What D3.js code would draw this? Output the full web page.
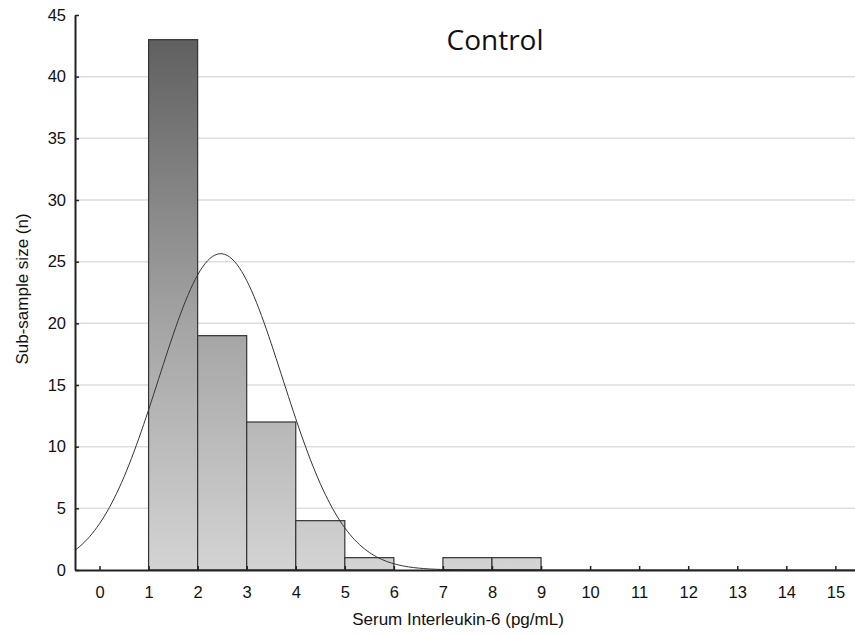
<!DOCTYPE html>
<html>
<head>
<meta charset="utf-8">
<title>Control</title>
<script src="https://cdn.jsdelivr.net/npm/d3@7"></script>
<style>
  body { margin: 0; background: #fff; }
  text { font-family: "Liberation Sans", Arial, sans-serif; fill: #111; }
</style>
</head>
<body>
<script>
// bins of serum IL-6 (pg/mL) and counts
var binStart = [1, 2, 3, 4, 5, 6, 7, 8];
var counts   = [43, 19, 12, 4, 1, 0, 1, 1];
var xTicks = d3.range(0, 16);
var yTicks = [0, 5, 10, 15, 20, 25, 30, 35, 40, 45];
// fitted normal curve
var fitMean = 2.47, fitSd = 1.26, fitN = 81;

var W = 855, H = 635;
var svg = d3.select("body").append("svg")
  .attr("width", W).attr("height", H);

var x = d3.scaleLinear().domain([-0.5, 15.4]).range([75, 855]);
var y = d3.scaleLinear().domain([0, 45]).range([570, 15]);

var defs = svg.append("defs");
var grad = defs.append("linearGradient").attr("id", "barGrad")
  .attr("gradientUnits", "userSpaceOnUse")
  .attr("x1", 0).attr("x2", 0).attr("y1", y(45)).attr("y2", y(0));
grad.append("stop").attr("offset", "0%").attr("stop-color", "#5a5a5a");
grad.append("stop").attr("offset", "55%").attr("stop-color", "#a3a3a3");
grad.append("stop").attr("offset", "100%").attr("stop-color", "#d4d4d4");
defs.append("clipPath").attr("id", "plotClip").append("rect")
  .attr("x", 75).attr("y", 15).attr("width", 780).attr("height", 555);

// grid
svg.append("g").selectAll("line")
  .data(yTicks.filter(function(d){ return d > 0 && d < 45; }))
  .enter().append("line")
  .attr("x1", 75).attr("x2", 855)
  .attr("y1", function(d){ return y(d); }).attr("y2", function(d){ return y(d); })
  .attr("stroke", "#dedede").attr("stroke-width", 1.5);

// bars
svg.append("g").selectAll("rect")
  .data(counts.map(function(c, i){ return {x0: binStart[i], n: c}; }).filter(function(d){ return d.n > 0; }))
  .enter().append("rect")
  .attr("x", function(d){ return x(d.x0); })
  .attr("width", function(d){ return x(d.x0 + 1) - x(d.x0); })
  .attr("y", function(d){ return y(d.n); })
  .attr("height", function(d){ return y(0) - y(d.n); })
  .attr("fill", "url(#barGrad)")
  .attr("stroke", "#333").attr("stroke-width", 1.2);

// normal curve
var curvePts = d3.range(-0.5, 15.41, 0.05).map(function(v){
  var z = (v - fitMean) / fitSd;
  return [v, fitN / (fitSd * Math.sqrt(2 * Math.PI)) * Math.exp(-0.5 * z * z)];
});
svg.append("path")
  .datum(curvePts)
  .attr("clip-path", "url(#plotClip)")
  .attr("fill", "none").attr("stroke", "#333").attr("stroke-width", 1)
  .attr("d", d3.line().x(function(d){ return x(d[0]); }).y(function(d){ return y(d[1]); }));

// axes
var xAxis = svg.append("g").attr("transform", "translate(0,570)")
  .call(d3.axisBottom(x).tickValues(xTicks).tickSizeInner(-4).tickSizeOuter(0).tickPadding(16));
var yAxis = svg.append("g").attr("transform", "translate(75,0)")
  .call(d3.axisLeft(y).tickValues(yTicks).tickSizeInner(-4).tickSizeOuter(0).tickPadding(9));
[xAxis, yAxis].forEach(function(a){
  a.select(".domain").attr("stroke", "#222").attr("stroke-width", 2);
  a.selectAll(".tick line").attr("stroke", "#222").attr("stroke-width", 1.5);
  a.selectAll("text").attr("font-size", 16.5).attr("fill", "#111")
    .attr("font-family", "Liberation Sans, Arial, sans-serif");
});

// labels
svg.append("text").attr("x", 458).attr("y", 625)
  .attr("text-anchor", "middle").attr("font-size", 17)
  .text("Serum Interleukin-6 (pg/mL)");
svg.append("text").attr("transform", "translate(28,289) rotate(-90)")
  .attr("text-anchor", "middle").attr("font-size", 17)
  .text("Sub-sample size (n)");
svg.append("text").attr("x", 495).attr("y", 50)
  .attr("text-anchor", "middle").attr("font-size", 28)
  .style("font-family", "'Open Sans', sans-serif")
  .text("Control");
</script>
</body>
</html>
